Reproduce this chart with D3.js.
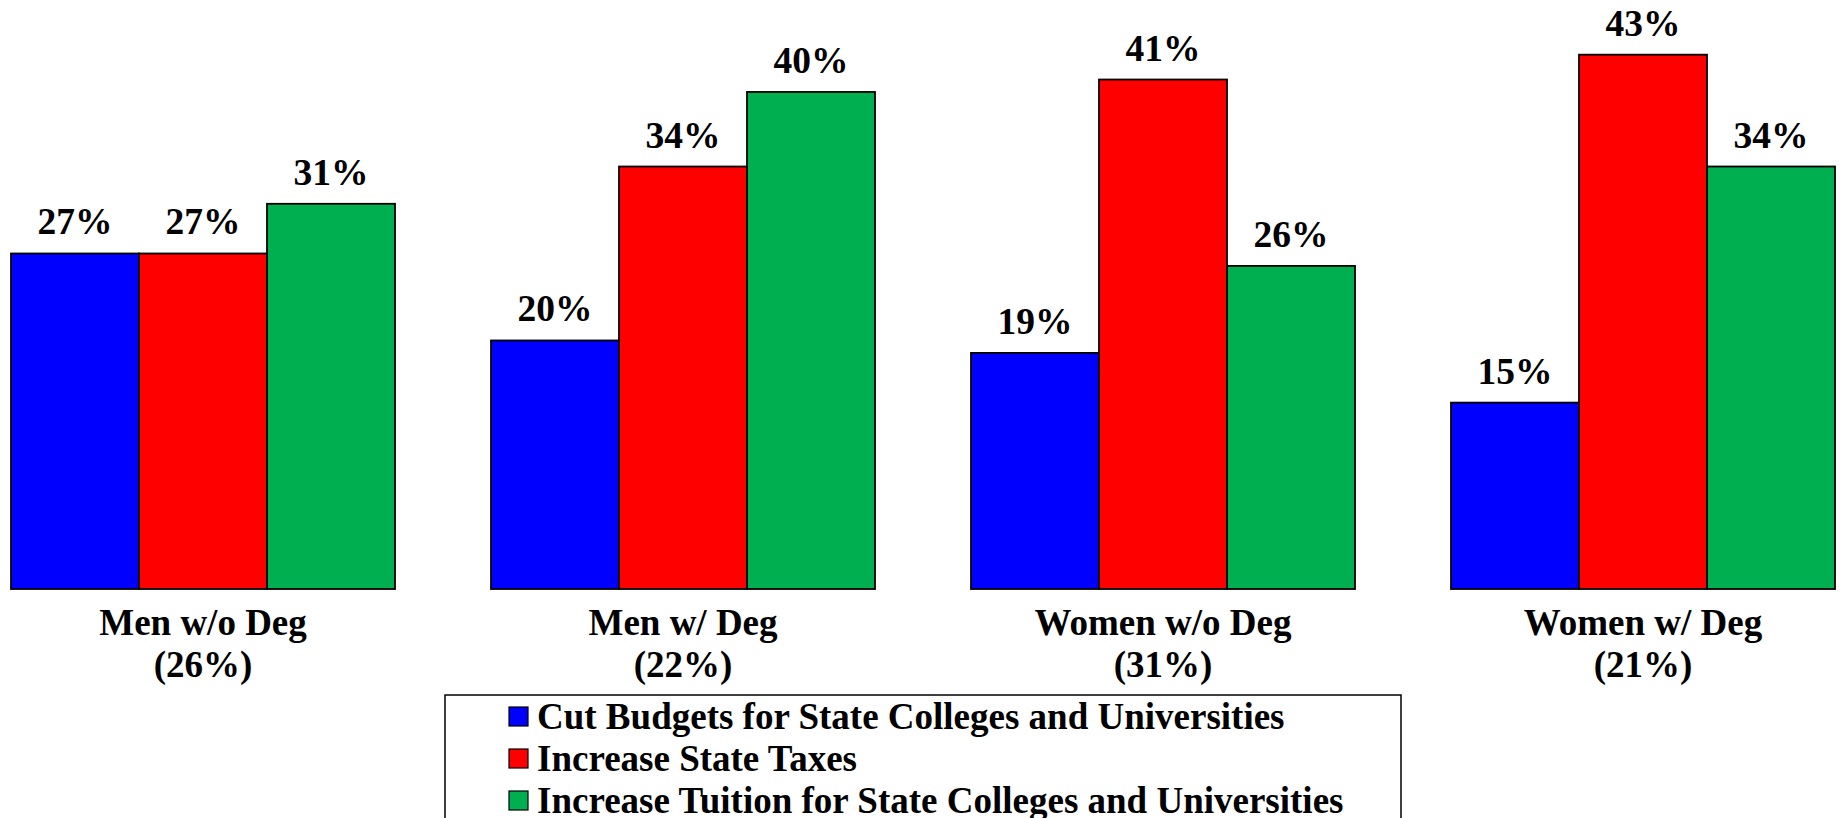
<!DOCTYPE html>
<html>
<head>
<meta charset="utf-8">
<script src="https://cdn.jsdelivr.net/npm/d3@7"></script>
<style>
html,body{margin:0;padding:0;background:#fff;overflow:hidden;}
text{font-family:"Liberation Serif","Times New Roman",serif;font-weight:bold;fill:#000;}
</style>
</head>
<body>
<svg id="chart" width="1841" height="818"></svg>
<script>
const categories = ["Men w/o Deg", "Men w/ Deg", "Women w/o Deg", "Women w/ Deg"];
const categoryShares = ["(26%)", "(22%)", "(31%)", "(21%)"];
const seriesNames = [
  "Cut Budgets for State Colleges and Universities",
  "Increase State Taxes",
  "Increase Tuition for State Colleges and Universities"
];
const seriesColors = ["#0000ff", "#ff0000", "#00b050"];
const cutBudgets = [27, 20, 19, 15];
const increaseTaxes = [27, 34, 41, 43];
const increaseTuition = [31, 40, 26, 34];
const seriesValues = [cutBudgets, increaseTaxes, increaseTuition];

const svg = d3.select("#chart");
const baseY = 589;

const x0 = d3.scaleBand().domain(categories).range([11, 1835]).paddingInner(0.2).paddingOuter(0);
const x1 = d3.scaleBand().domain(d3.range(seriesNames.length)).range([0, x0.bandwidth()]).padding(0);
const y = d3.scaleLinear().domain([0, 47.4]).range([baseY, 0]);

const groups = svg.selectAll("g.grp").data(categories).enter().append("g")
  .attr("class", "grp")
  .attr("transform", d => `translate(${x0(d)},0)`);

groups.each(function(cat, ci) {
  const g = d3.select(this);
  const data = seriesValues.map((arr, si) => ({si, v: arr[ci]}));
  g.selectAll("rect").data(data).enter().append("rect")
    .attr("x", d => x1(d.si))
    .attr("y", d => y(d.v))
    .attr("width", x1.bandwidth())
    .attr("height", d => baseY - y(d.v))
    .attr("fill", d => seriesColors[d.si])
    .attr("stroke", "#000")
    .attr("stroke-width", 1.8);
  g.selectAll("text.val").data(data).enter().append("text")
    .attr("class", "val")
    .attr("x", d => x1(d.si) + x1.bandwidth() / 2)
    .attr("y", d => y(d.v) - 19)
    .attr("text-anchor", "middle")
    .style("font-size", "37.5px")
    .text(d => d.v + "%");
  g.append("text")
    .attr("x", x0.bandwidth() / 2)
    .attr("y", 635)
    .attr("text-anchor", "middle")
    .style("font-size", "37px")
    .text(cat);
  g.append("text")
    .attr("x", x0.bandwidth() / 2)
    .attr("y", 677)
    .attr("text-anchor", "middle")
    .style("font-size", "37px")
    .text(categoryShares[ci]);
});

// Legend
const legend = svg.append("g");
legend.append("rect")
  .attr("x", 445).attr("y", 695)
  .attr("width", 956).attr("height", 140)
  .attr("fill", "#fff").attr("stroke", "#000").attr("stroke-width", 1.5);
const items = legend.selectAll("g.item").data(seriesNames).enter().append("g")
  .attr("class", "item")
  .attr("transform", (d, i) => `translate(0,${i * 42})`);
items.append("rect")
  .attr("x", 509).attr("y", 707)
  .attr("width", 19).attr("height", 19)
  .attr("fill", (d, i) => seriesColors[i])
  .attr("stroke", "#000").attr("stroke-width", 1.2);
items.append("text")
  .attr("x", 537).attr("y", 729)
  .style("font-size", "37px")
  .text(d => d);
</script>
</body>
</html>
